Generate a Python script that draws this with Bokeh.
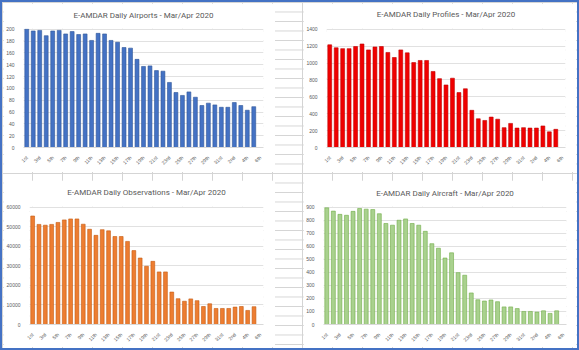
import math
from bokeh.plotting import figure
from bokeh.layouts import row, column
from bokeh.models import FixedTicker, ColumnDataSource, Range1d
from bokeh.embed import file_html
from bokeh.resources import INLINE

# ---- data ----
days = ["1st", "2nd", "3rd", "4th", "5th", "6th", "7th", "8th", "9th", "10th",
        "11th", "12th", "13th", "14th", "15th", "16th", "17th", "18th", "19th", "20th",
        "21st", "22nd", "23rd", "24th", "25th", "26th", "27th", "28th", "29th", "30th",
        "31st", "1st", "2nd", "3rd", "4th", "5th", "6th"]

airports = [200, 197, 198, 189, 197, 198, 192, 196, 191, 192,
            181, 193, 192, 181, 178, 169, 168, 149, 137, 138,
            130, 129, 110, 93, 88, 94, 85, 71, 75, 72,
            68, 68, 76, 71, 63, 69]

profiles = [1215, 1180, 1170, 1170, 1195, 1225, 1155, 1190, 1195, 1125,
            1065, 1155, 1120, 1005, 1030, 1030, 900, 815, 740, 820,
            650, 695, 440, 340, 320, 360, 335, 235, 285, 230,
            235, 230, 230, 255, 185, 215]

observations = [55500, 51200, 50800, 51200, 52200, 53500, 54000, 54000, 51300, 48700,
                45600, 48500, 47900, 45000, 45000, 42500, 37800, 34000, 29800, 32300,
                26900, 26900, 16600, 13200, 11900, 13100, 12200, 9200, 10600, 8200,
                8200, 8200, 8900, 9200, 7200, 9100]

aircraft = [895, 870, 845, 838, 868, 890, 885, 882, 850, 775,
            762, 800, 810, 775, 762, 715, 620, 585, 510, 550,
            398, 378, 242, 190, 180, 188, 175, 135, 135, 122,
            100, 100, 95, 105, 85, 105]

TXT = "#595959"
GRID = "#d9d9d9"


def panel(title, vals, fill, edge, ymax, step, w, h, ml, mr, mt, mb, toff, tpad):
    p = figure(width=w, height=h, output_backend="svg", toolbar_location=None,
               x_range=Range1d(-0.5, len(days) - 0.5),
               y_range=Range1d(0, ymax * 1.006),
               min_border_left=ml, min_border_right=mr,
               min_border_top=mt, min_border_bottom=mb)
    src = ColumnDataSource(dict(x=list(range(len(vals))), top=vals))
    p.vbar(x="x", top="top", width=0.6, source=src,
           fill_color=fill, line_color=edge, line_width=0.6)
    p.title.text = title
    p.title.align = "center"
    p.title.text_font = "Roboto"
    p.title.text_font_size = "8px"
    p.title.text_font_style = "normal"
    p.title.text_color = TXT
    p.title.offset = toff
    p.title.standoff = 0
    p.title.padding = (0, 0, 0, tpad)

    ticks = list(range(0, len(days), 2))
    p.xaxis.ticker = FixedTicker(ticks=ticks)
    p.xaxis.major_label_overrides = {i: days[i] for i in ticks}
    p.xaxis.major_label_orientation = math.pi / 4
    p.xaxis.axis_line_color = GRID
    p.xaxis.major_tick_line_color = None
    p.xaxis.minor_tick_line_color = None
    p.xaxis.major_label_text_font_size = "5px"
    p.xaxis.major_label_text_color = TXT
    p.xaxis.major_label_standoff = 3

    p.yaxis.ticker = FixedTicker(ticks=list(range(0, ymax + 1, step)))
    p.yaxis.axis_line_color = None
    p.yaxis.major_tick_line_color = None
    p.yaxis.minor_tick_line_color = None
    p.yaxis.major_label_text_font_size = "5px"
    p.yaxis.major_label_text_color = TXT
    p.yaxis.major_label_standoff = 3

    p.xgrid.grid_line_color = None
    p.ygrid.grid_line_color = GRID
    p.ygrid.grid_line_width = 0.8
    p.outline_line_color = None
    p.background_fill_color = "white"
    p.border_fill_color = "white"
    return p


p1 = panel("E-AMDAR Daily Airports - Mar/Apr 2020", airports, "#4472C4", "#2F5597",
           200, 20, 272, 169, 19, 12, 25, 25, -5, 9)
p2 = panel("E-AMDAR Daily Profiles - Mar/Apr 2020", profiles, "#F00000", "#C00000",
           1400, 200, 273, 169, 22, 11, 25, 25, -5, 10)
p3 = panel("E-AMDAR Daily Observations - Mar/Apr 2020", observations, "#ED7D31", "#C55A11",
           60000, 10000, 272, 167, 20, 12, 26, 22, 14, 10)
p4 = panel("E-AMDAR Daily Aircraft - Mar/Apr 2020", aircraft, "#A9D18E", "#70AD47",
           900, 100, 273, 167, 19, 10, 26, 21, -2, 9)

layout = column(
    row(p1, p2, spacing=28),
    row(p3, p4, spacing=28),
    spacing=8,
    styles={
        "border": "2px solid #4472C4",
        "padding": "1px",
        "background-color": "white",
        "background-image": "linear-gradient(to bottom, #d4d4d4 1px, transparent 1px), "
                            "linear-gradient(to right, #d4d4d4 1px, transparent 1px)",
        "background-size": "30px 9.5px",
    },
)

open("out.html", "w").write(file_html(layout, INLINE, title="E-AMDAR Daily - Mar/Apr 2020"))
